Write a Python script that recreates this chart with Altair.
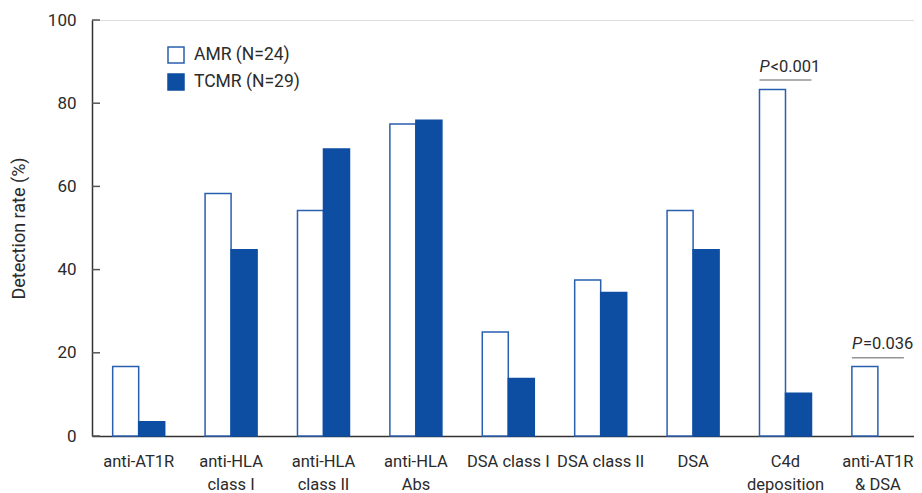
import altair as alt
import pandas as pd

categories = ["anti-AT1R", "anti-HLA\nclass I", "anti-HLA\nclass II", "anti-HLA\nAbs",
              "DSA class I", "DSA class II", "DSA", "C4d\ndeposition", "anti-AT1R\n& DSA"]
groups = ["AMR (N=24)", "TCMR (N=29)"]
amr = [16.7, 58.3, 54.2, 75.0, 25.0, 37.5, 54.2, 83.3, 16.7]
tcmr = [3.4, 44.8, 69.0, 75.9, 13.8, 34.5, 44.8, 10.3, 0.0]
y_ticks = [0, 20, 40, 60, 80, 100]

ann_cats = ["C4d\ndeposition", "anti-AT1R\n& DSA"]
ann_line = [85.6, 18.8]
ann_text_y = [87.6, 21.0]
ann_rel = ["<0.001", "=0.036"]

FONT = "Roboto, 'Liberation Sans', sans-serif"
BLUE = "#0d4ea3"
EDGE = "#2a5fb0"
TXT = "#2b2b2b"

rows = []
for c, a, t in zip(categories, amr, tcmr):
    rows.append({"cat": c, "group": groups[0], "value": a})
    rows.append({"cat": c, "group": groups[1], "value": t})
df = pd.DataFrame(rows)

ann = pd.DataFrame({"cat": ann_cats, "line": ann_line, "ty": ann_text_y, "rel": ann_rel})
ticks = pd.DataFrame({"t": y_ticks})

xscale = alt.Scale(domain=categories, paddingInner=0.437, paddingOuter=0.1665, align=0.672)
yscale = alt.Scale(domain=[0, 100], nice=False, zero=True)

x_axis = alt.Axis(title=None, labelExpr="split(datum.label, '\\n')", labelAngle=0,
                  labelFont=FONT, labelFontSize=16.5, labelColor=TXT, labelLineHeight=23,
                  labelPadding=17, ticks=False, domainColor="#333", domainWidth=1.5,
                  labelBaseline="top")
y_axis = alt.Axis(title="Detection rate (%)", values=y_ticks, ticks=False, grid=False,
                  labelFont=FONT, labelFontSize=17, labelColor=TXT, labelPadding=16,
                  domainColor="#333", domainWidth=1.5,
                  titleFont=FONT, titleFontSize=18, titleFontWeight="normal", titleColor=TXT,
                  titleX=-73, titleY=208, titleAngle=-90, titleAlign="center",
                  titleBaseline="middle")

bars = alt.Chart(df).transform_filter("datum.value > 0").mark_bar(strokeWidth=1.5).encode(
    x=alt.X("cat:N", scale=xscale, axis=x_axis, sort=categories),
    xOffset=alt.XOffset("group:N", scale=alt.Scale(domain=groups, paddingInner=0, paddingOuter=0)),
    y=alt.Y("value:Q", scale=yscale, axis=y_axis),
    fill=alt.Fill("group:N", scale=alt.Scale(domain=groups, range=["white", BLUE]),
                  legend=alt.Legend(title=None, orient="none", legendX=75, legendY=26,
                                    symbolType="square", symbolSize=256, symbolStrokeWidth=1.5,
                                    labelFont=FONT, labelFontSize=17.5, labelColor=TXT,
                                    labelOffset=9, rowPadding=5, padding=0)),
    stroke=alt.Stroke("group:N", scale=alt.Scale(domain=groups, range=[EDGE, BLUE]), legend=None),
)

tick_marks = alt.Chart(ticks).mark_rule(color="#555", strokeWidth=1.5).encode(
    y=alt.Y("t:Q", scale=yscale),
    x=alt.value(0),
    x2=alt.value(8),
)

lines = alt.Chart(ann).mark_tick(color="#666", thickness=1.5, size=52, orient="horizontal").encode(
    x=alt.X("cat:N", scale=xscale, sort=categories),
    y=alt.Y("line:Q", scale=yscale),
)

ptext = alt.Chart(ann).mark_text(text="P", font=FONT, fontSize=16.5, fontStyle="italic",
                                 align="left", baseline="alphabetic", dx=-26, color=TXT).encode(
    x=alt.X("cat:N", scale=xscale, sort=categories),
    y=alt.Y("ty:Q", scale=yscale),
)
reltext = alt.Chart(ann).mark_text(font=FONT, fontSize=16.5, align="left", baseline="alphabetic",
                                   dx=-15, color=TXT).encode(
    x=alt.X("cat:N", scale=xscale, sort=categories),
    y=alt.Y("ty:Q", scale=yscale),
    text="rel:N",
)

chart = alt.layer(bars, tick_marks, lines, ptext, reltext).properties(
    width=822, height=416,
    autosize=alt.AutoSizeParams(type="none"),
    padding={"left": 84, "top": 12, "right": 0, "bottom": 57},
).configure_view(stroke=None).configure(background="white")

chart.save("out.html", embed_options={"renderer": "svg", "actions": False})
